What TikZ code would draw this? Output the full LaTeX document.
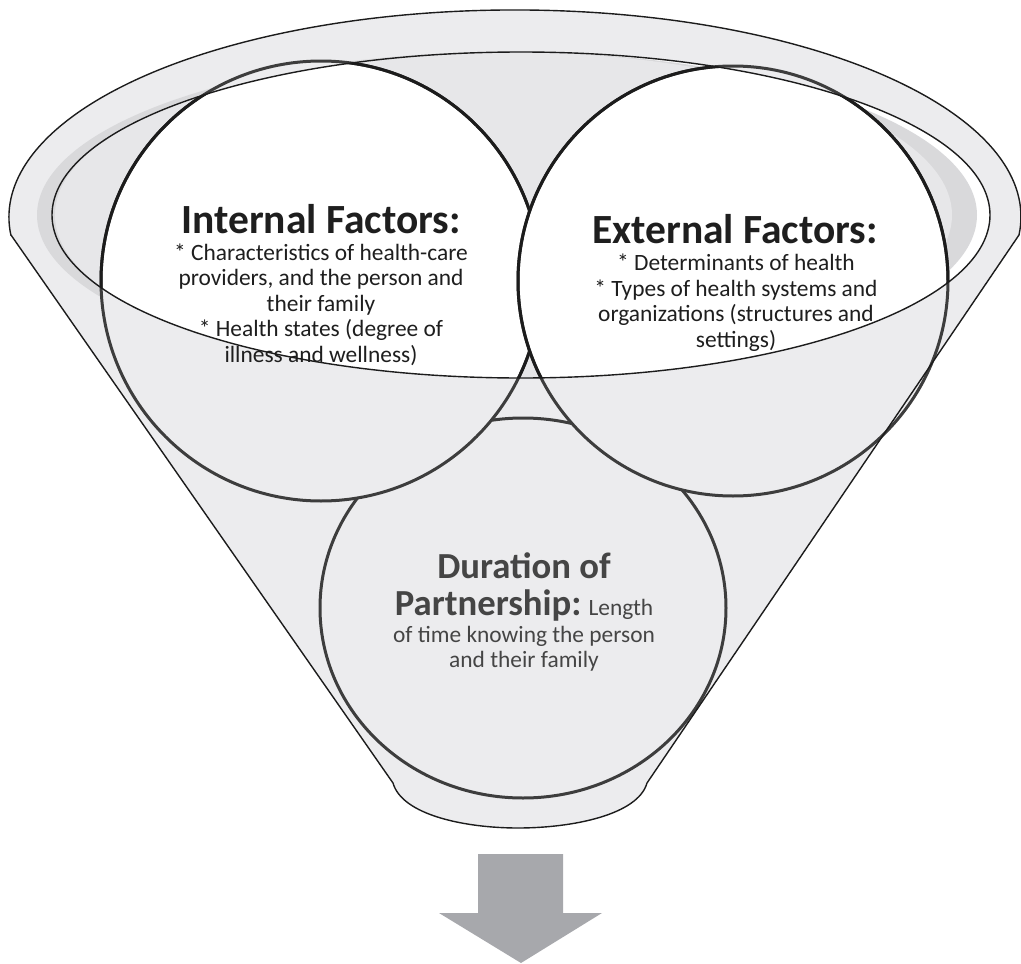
\documentclass[tikz,border=0pt]{standalone}
\usepackage{fontspec}
\setmainfont{Carlito}
\definecolor{rimgray}{HTML}{ECECEE}
\definecolor{bandgray}{HTML}{D9D9DB}
\definecolor{innergray}{HTML}{E7E7E9}
\definecolor{linedark}{HTML}{1C1C1C}
\definecolor{circlow}{HTML}{3D3D3D}
\definecolor{txtdark}{HTML}{1E1E1E}
\definecolor{txtgray}{HTML}{454545}
\definecolor{arrowgray}{HTML}{A7A8AC}
\begin{document}
\begin{tikzpicture}[x=1pt,y=-1pt,
  thinln/.style={draw=linedark, line width=1.4pt},
  circup/.style={draw=linedark, line width=3pt},
  circlo/.style={draw=circlow, line width=3pt},
  ttl/.style={font=\fontsize{41.5}{44}\selectfont\bfseries, text=txtdark, inner sep=0pt},
  bodytxt/.style={font=\fontsize{23.4}{25.5}\selectfont, text=txtdark, align=center, inner sep=0pt},
  durttl/.style={font=\fontsize{36.7}{40}\selectfont\bfseries, text=txtgray, inner sep=0pt},
  durtxt/.style={font=\fontsize{23.4}{24.5}\selectfont, text=txtgray, align=center, inner sep=0pt}]
\useasboundingbox (0,0) rectangle (1021,964);

% funnel body
\path[fill=rimgray] (11,235) -- (393,783) .. controls (402,815) and (465,828) .. (518,828)
  .. controls (572,828) and (638,815) .. (647,783) -- (1019,235)
  arc[start angle=5, end angle=-185, x radius=506, y radius=207] -- cycle;

% inner opening
\fill[white] (521,215) ellipse [x radius=469, y radius=163];
\fill[bandgray] (507,215) ellipse [x radius=470, y radius=163];
\fill[innergray] (503.5,215) ellipse [x radius=448.5, y radius=163];

% bottom circle
\fill[rimgray] (523,608) ellipse [x radius=203, y radius=190];
\draw[circlo] (523,608) ellipse [x radius=203, y radius=190];

% left circle
\fill[rimgray] (321,281) circle [radius=220];
\begin{scope}
  \clip (521,215) ellipse [x radius=469, y radius=163];
  \fill[white] (321,281) circle [radius=220];
\end{scope}
\draw[circlo] (321,281) circle [radius=220];
\begin{scope}
  \clip (521,215) ellipse [x radius=469, y radius=163];
  \draw[circup] (321,281) circle [radius=220];
\end{scope}

% right circle
\fill[rimgray] (733,281) circle [radius=215];
\begin{scope}
  \clip (521,215) ellipse [x radius=469, y radius=163];
  \fill[white] (733,281) circle [radius=215];
\end{scope}
\draw[circlo] (733,281) circle [radius=215];
\begin{scope}
  \clip (521,215) ellipse [x radius=469, y radius=163];
  \draw[circup] (733,281) circle [radius=215];
\end{scope}

% texts (multi-line nodes: base = baseline of last line)
\node[ttl, anchor=base] (intT) at (321,233) {Internal Factors:};
\node[bodytxt, anchor=base] (intB) at (321,362) {* Characteristics of health-care\\providers, and the person and\\their family\\* Health states (degree of\\illness and wellness)};

\node[ttl, anchor=base] (extT) at (735,243) {External Factors:};
\node[bodytxt, anchor=base] (extB) at (736,347) {* Determinants of health\\* Types of health systems and\\organizations (structures and\\settings)};

\node[durttl, anchor=base] (durT) at (524,578) {Duration of};
\node[durtxt, anchor=base] (durB) at (524,667) {{\fontsize{36.7}{40}\selectfont\bfseries Partnership:} Length\\[3pt]of time knowing the person\\and their family};

% outlines on top
\draw[thinln] (521,215) ellipse [x radius=469, y radius=163];
\draw[thinln] (11,235) -- (393,783) .. controls (402,815) and (465,828) .. (518,828)
  .. controls (572,828) and (638,815) .. (647,783) -- (1019,235)
  arc[start angle=5, end angle=-185, x radius=506, y radius=207] -- cycle;

% arrow
\fill[arrowgray] (478,854) -- (563,854) -- (563,913) -- (602,913) -- (521,963)
  -- (439,913) -- (478,913) -- cycle;
\end{tikzpicture}
\end{document}
